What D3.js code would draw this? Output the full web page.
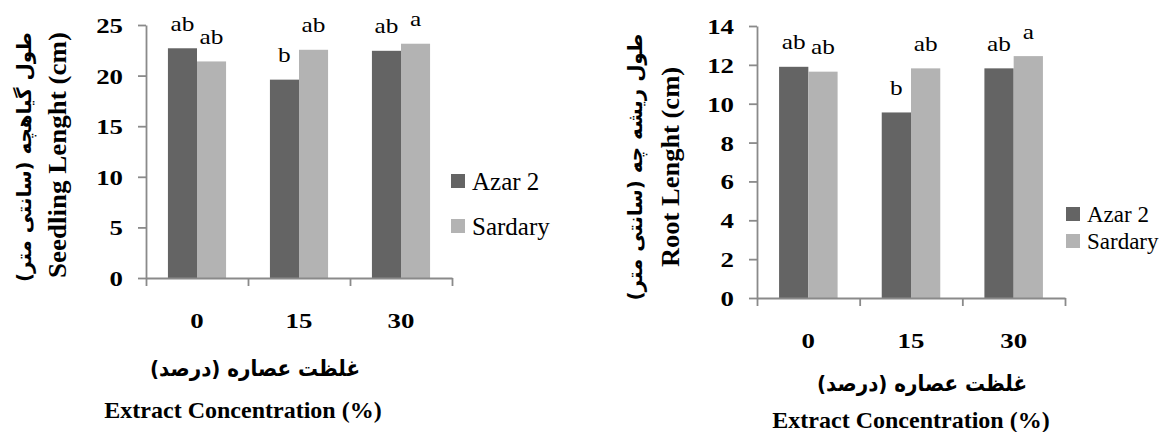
<!DOCTYPE html>
<html>
<head>
<meta charset="utf-8">
<script src="https://cdn.jsdelivr.net/npm/d3@7"></script>
<style>
  html, body { margin: 0; padding: 0; background: #fff; }
  svg { display: block; }
</style>
</head>
<body>
<svg id="chart" width="1168" height="432"></svg>
<script>
// ---------------- DATA ----------------
const categories = ["0", "15", "30"];
const seriesNames = ["Azar 2", "Sardary"];

const seedlingAzar = [22.7, 19.6, 22.45];
const seedlingSardary = [21.4, 22.55, 23.15];
const seedlingLettersAzar = ["ab", "b", "ab"];
const seedlingLettersSardary = ["ab", "ab", "a"];
const seedlingTicks = [0, 5, 10, 15, 20, 25];

const rootAzar = [11.9, 9.55, 11.82];
const rootSardary = [11.65, 11.82, 12.45];
const rootLettersAzar = ["ab", "b", "ab"];
const rootLettersSardary = ["ab", "ab", "a"];
const rootTicks = [0, 2, 4, 6, 8, 10, 12, 14];

const yTitleSeedlingFa = "طول گیاهچه (سانتی متر)";
const yTitleSeedlingEn = "Seedling Lenght (cm)";
const yTitleRootFa = "طول ریشه چه (سانتی متر)";
const yTitleRootEn = "Root Lenght (cm)";
const xTitleFa = "غلظت عصاره (درصد)";
const xTitleEn = "Extract Concentration (%)";

// ---------------- STYLE ----------------
const colors = ["#646464", "#b3b3b3"];
const axisColor = "#8a8a8a";
const serif = "'Liberation Serif', 'Times New Roman', serif";
const arabic = "'DejaVu Sans', sans-serif";

const svg = d3.select("#chart");

function stretch(sel, k) {
  sel.each(function () {
    const L = this.getComputedTextLength();
    d3.select(this).attr("textLength", L * k).attr("lengthAdjust", "spacingAndGlyphs");
  });
}
function fixLen(sel, L) {
  sel.attr("textLength", L).attr("lengthAdjust", "spacingAndGlyphs");
}

function drawChart(cfg) {
  const g = svg.append("g");
  const x0 = d3.scaleBand().domain(categories).range(cfg.xRange)
    .paddingInner(0.43).paddingOuter(0.215);
  const x1 = d3.scaleBand().domain(seriesNames).range([0, x0.bandwidth()]);
  const y = d3.scaleLinear().domain([0, cfg.yMax]).range(cfg.yRange);
  const bound = d3.scaleLinear().domain([0, categories.length]).range(cfg.xRange);
  const xLab = d3.scaleBand().domain(categories).range(cfg.xRange);

  const series = [cfg.a, cfg.b];
  const letters = [cfg.la, cfg.lb];

  // bars
  series.forEach((vals, si) => {
    g.selectAll(null).data(vals).enter().append("rect")
      .attr("x", (d, i) => x0(categories[i]) + x1(seriesNames[si]))
      .attr("y", d => y(d))
      .attr("width", x1.bandwidth())
      .attr("height", d => y(0) - y(d))
      .attr("fill", colors[si]);
    g.selectAll(null).data(vals).enter().append("text")
      .attr("x", (d, i) => x0(categories[i]) + x1(seriesNames[si]) + x1.bandwidth() / 2)
      .attr("y", d => y(d) - 17.5)
      .attr("text-anchor", "middle")
      .attr("font-family", serif)
      .attr("font-size", 22)
      .attr("fill", "#000")
      .text((d, i) => letters[si][i])
      .call(stretch, 1.15);
  });

  // y axis
  const ya = g.append("g")
    .attr("transform", `translate(${cfg.xRange[0]},0)`)
    .call(d3.axisLeft(y).tickValues(cfg.ticks).tickSize(8).tickSizeOuter(0).tickPadding(15));
  ya.select(".domain").attr("stroke", axisColor).attr("stroke-width", 1.8);
  ya.selectAll(".tick line").attr("stroke", axisColor).attr("stroke-width", 1.8);
  ya.selectAll(".tick text")
    .attr("font-family", serif).attr("font-size", 22).attr("font-weight", "bold")
    .attr("fill", "#000").attr("dy", "0.34em")
    .call(stretch, 1.22);

  // x axis: line + boundary ticks
  const xa = g.append("g")
    .attr("transform", `translate(0,${y(0)})`)
    .call(d3.axisBottom(bound).tickValues(d3.range(categories.length + 1))
      .tickFormat("").tickSize(8).tickSizeOuter(0));
  xa.select(".domain").attr("stroke", axisColor).attr("stroke-width", 1.8);
  xa.selectAll(".tick line").attr("stroke", axisColor).attr("stroke-width", 1.8);

  // x category labels
  g.selectAll(null).data(categories).enter().append("text")
    .attr("x", d => xLab(d) + xLab.bandwidth() / 2)
    .attr("y", y(0) + 50)
    .attr("text-anchor", "middle")
    .attr("font-family", serif).attr("font-size", 22).attr("font-weight", "bold")
    .text(d => d)
    .call(stretch, 1.22);

  // x titles
  g.append("text")
    .attr("x", cfg.xFaX).attr("y", cfg.xFaY)
    .attr("text-anchor", "middle").attr("direction", "rtl")
    .attr("dominant-baseline", "central")
    .attr("font-family", arabic).attr("font-size", 22).attr("font-weight", "bold")
    .text(xTitleFa).call(fixLen, 210);
  g.append("text")
    .attr("x", cfg.xEnX).attr("y", cfg.xEnY)
    .attr("text-anchor", "middle")
    .attr("font-family", serif).attr("font-size", 24).attr("font-weight", "bold")
    .text(xTitleEn);

  // y titles
  g.append("text")
    .attr("transform", `translate(${cfg.yFaX},${cfg.yFaC}) rotate(-90)`)
    .attr("text-anchor", "middle").attr("direction", "rtl")
    .attr("dominant-baseline", "central")
    .attr("font-family", arabic).attr("font-size", 20).attr("font-weight", "bold")
    .text(cfg.yFa).call(fixLen, cfg.yFaLen);
  g.append("text")
    .attr("transform", `translate(${cfg.yEnX},${cfg.yEnC}) rotate(-90)`)
    .attr("text-anchor", "middle")
    .attr("font-family", serif).attr("font-size", 25).attr("font-weight", "bold")
    .text(cfg.yEn).call(fixLen, cfg.yEnLen);

  // legend
  const lg = g.append("g");
  seriesNames.forEach((name, i) => {
    const ly = cfg.legY[i];
    lg.append("rect").attr("x", cfg.legX).attr("y", ly - 7).attr("width", 14).attr("height", 14)
      .attr("fill", colors[i]);
    lg.append("text").attr("x", cfg.legX + 21).attr("y", ly + cfg.legFs * 0.36)
      .attr("font-family", serif).attr("font-size", cfg.legFs).text(name);
  });
}

drawChart({
  xRange: [146, 452], yRange: [278, 25], yMax: 25, ticks: seedlingTicks,
  a: seedlingAzar, b: seedlingSardary, la: seedlingLettersAzar, lb: seedlingLettersSardary,
  xFaX: 255, xFaY: 368, xEnX: 243, xEnY: 418,
  yFa: yTitleSeedlingFa, yFaX: 24, yFaC: 157, yFaLen: 250,
  yEn: yTitleSeedlingEn, yEnX: 66, yEnC: 155, yEnLen: 246,
  legX: 451, legY: [181, 226], legFs: 25
});

drawChart({
  xRange: [757, 1065], yRange: [298, 26], yMax: 14, ticks: rootTicks,
  a: rootAzar, b: rootSardary, la: rootLettersAzar, lb: rootLettersSardary,
  xFaX: 922, xFaY: 383, xEnX: 911, xEnY: 428,
  yFa: yTitleRootFa, yFaX: 635, yFaC: 167, yFaLen: 267,
  yEn: yTitleRootEn, yEnX: 679, yEnC: 167, yEnLen: 200,
  legX: 1066, legY: [214, 241], legFs: 23
});
</script>
</body>
</html>
